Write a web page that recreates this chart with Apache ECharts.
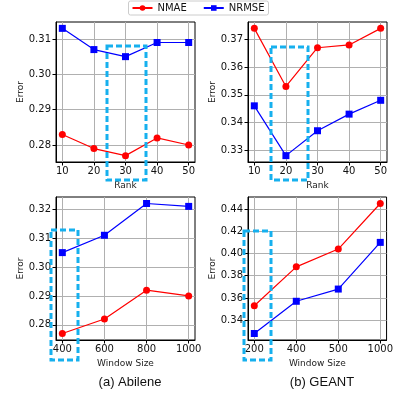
<!DOCTYPE html>
<html><head><meta charset="utf-8">
<script src="https://cdn.jsdelivr.net/npm/echarts@6/dist/echarts.min.js"></script>
<style>html,body{margin:0;padding:0;background:#fff}#c{width:396px;height:397px}</style>
</head><body><div id="c"></div>
<script>
// Data
const rankX = [10, 20, 30, 40, 50];
const abileneRankNMAE = [0.283, 0.279, 0.277, 0.282, 0.280];
const abileneRankNRMSE = [0.313, 0.307, 0.305, 0.309, 0.309];
const geantRankNMAE = [0.374, 0.353, 0.367, 0.368, 0.374];
const geantRankNRMSE = [0.346, 0.328, 0.337, 0.343, 0.348];
const abileneWin = [400, 600, 800, 1000];
const abileneWinNMAE = [0.277, 0.282, 0.292, 0.290];
const abileneWinNRMSE = [0.305, 0.311, 0.322, 0.321];
const geantWin = ['200', '400', '500', '1000'];
const geantWinNMAE = [0.353, 0.388, 0.404, 0.445];
const geantWinNRMSE = [0.328, 0.357, 0.368, 0.410];
const yTicksA1 = [0.28, 0.29, 0.30, 0.31];
const yTicksG1 = [0.33, 0.34, 0.35, 0.36, 0.37];
const yTicksA2 = [0.28, 0.29, 0.30, 0.31, 0.32];
const yTicksG2 = [0.34, 0.36, 0.38, 0.40, 0.42, 0.44];

const FONT = 'DejaVu Sans';
const grids = [
  {left: 56, top: 22, width: 139, height: 140},
  {left: 248, top: 22, width: 139, height: 140},
  {left: 56, top: 197, width: 139, height: 143},
  {left: 248, top: 197, width: 139, height: 143}
].map(g => Object.assign({show: true, borderColor: '#000', borderWidth: 1, backgroundColor: 'transparent'}, g));

function pad(arr, frac) {
  const mn = Math.min(...arr), mx = Math.max(...arr), d = (mx - mn) * frac;
  return [mn - d, mx + d];
}
function xAxis(idx, name, min, max, ticks, fmt) {
  return {
    type: 'value', gridIndex: idx, min, max, name, nameLocation: 'middle', nameGap: 19,
    nameTextStyle: {fontFamily: FONT, fontSize: 9, color: '#222'},
    axisLine: {show: true, onZero: false, lineStyle: {color: '#000', width: 1}},
    axisTick: {show: true, length: 3.5, customValues: ticks, lineStyle: {color: '#000'}},
    axisLabel: {customValues: ticks, fontFamily: FONT, fontSize: 10, color: '#111', margin: 4, formatter: fmt || (v => String(v))},
    splitLine: {show: true, lineStyle: {color: '#b0b0b0', width: 1}}
  };
}
function yAxis(idx, range, ticks, dec) {
  return {
    type: 'value', gridIndex: idx, min: range[0], max: range[1], name: 'Error', nameLocation: 'middle', nameGap: 31,
    nameTextStyle: {fontFamily: FONT, fontSize: 9, color: '#222'},
    axisLine: {show: true, onZero: false, lineStyle: {color: '#000', width: 1}},
    axisTick: {show: true, length: 3.5, customValues: ticks, lineStyle: {color: '#000'}},
    axisLabel: {customValues: ticks, fontFamily: FONT, fontSize: 10, color: '#111', margin: 5, formatter: v => v.toFixed(dec)},
    splitLine: {show: true, lineStyle: {color: '#b0b0b0', width: 1}}
  };
}
const geantIdx = geantWin.map((_, i) => i);
const xAxes = [
  xAxis(0, 'Rank', 8, 52, rankX),
  xAxis(1, 'Rank', 8, 52, rankX),
  xAxis(2, 'Window Size', 370, 1030, abileneWin),
  xAxis(3, 'Window Size', -0.15, 3.15, geantIdx, v => geantWin[Math.round(v)])
];
const yAxes = [
  yAxis(0, pad(abileneRankNMAE.concat(abileneRankNRMSE), 0.05), yTicksA1, 2),
  yAxis(1, pad(geantRankNMAE.concat(geantRankNRMSE), 0.05), yTicksG1, 2),
  yAxis(2, pad(abileneWinNMAE.concat(abileneWinNRMSE), 0.05), yTicksA2, 2),
  yAxis(3, pad(geantWinNMAE.concat(geantWinNRMSE), 0.05), yTicksG2, 2)
];
function zip(xs, ys) { return xs.map((x, i) => [x, ys[i]]); }
function nmae(i, d) {
  return {name: 'NMAE', type: 'line', xAxisIndex: i, yAxisIndex: i, data: d, symbol: 'circle', symbolSize: 7,
    color: '#ff0000', lineStyle: {color: '#ff0000', width: 1.2}, itemStyle: {color: '#ff0000'}, animation: false, z: 3};
}
function nrmse(i, d) {
  return {name: 'NRMSE', type: 'line', xAxisIndex: i, yAxisIndex: i, data: d, symbol: 'rect', symbolSize: 7,
    color: '#0000ff', lineStyle: {color: '#0000ff', width: 1.2}, itemStyle: {color: '#0000ff'}, animation: false, z: 3};
}
const series = [
  nmae(0, zip(rankX, abileneRankNMAE)), nrmse(0, zip(rankX, abileneRankNRMSE)),
  nmae(1, zip(rankX, geantRankNMAE)), nrmse(1, zip(rankX, geantRankNRMSE)),
  nmae(2, zip(abileneWin, abileneWinNMAE)), nrmse(2, zip(abileneWin, abileneWinNRMSE)),
  nmae(3, zip(geantIdx, geantWinNMAE)), nrmse(3, zip(geantIdx, geantWinNRMSE))
];
const dashStyle = {fill: 'none', stroke: '#16b0ee', lineWidth: 3, lineDash: [6, 3]};
function box(x1, y1, x2, y2) {
  return {type: 'rect', shape: {x: x1, y: y1, width: x2 - x1, height: y2 - y1}, style: dashStyle, z: 10, silent: true};
}
const chart = echarts.init(document.getElementById('c'), null, {renderer: 'canvas'});
chart.setOption({
  backgroundColor: '#fff',
  animation: false,
  grid: grids, xAxis: xAxes, yAxis: yAxes, series,
  legend: {
    data: ['NMAE', 'NRMSE'], top: 1, left: 'center', itemWidth: 20, itemHeight: 7, itemGap: 16,
    padding: [2, 4, 2, 3], borderColor: '#ccc', borderWidth: 1, borderRadius: 2,
    textStyle: {fontFamily: FONT, fontSize: 10, color: '#111'}
  },
  title: [
    {text: '(a) Abilene', left: 125, top: 371, textAlign: 'center', textStyle: {fontFamily: 'Liberation Sans', fontSize: 13, fontWeight: 'normal', color: '#111'}},
    {text: '(b) GEANT', left: 317, top: 371, textAlign: 'center', textStyle: {fontFamily: 'Liberation Sans', fontSize: 13, fontWeight: 'normal', color: '#111'}}
  ],
  graphic: [
    box(107, 46, 146, 180),
    box(271, 47, 308, 180),
    box(51, 230, 78, 360),
    box(244, 231, 271, 360)
  ]
});
</script></body></html>
